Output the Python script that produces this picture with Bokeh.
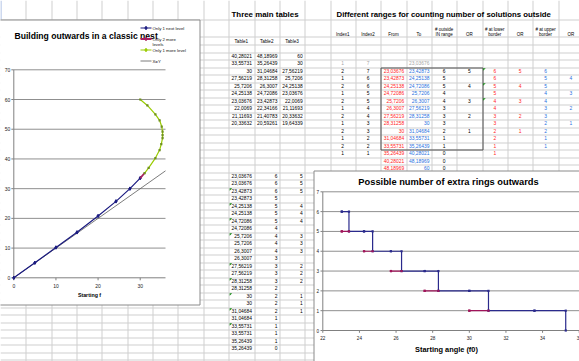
from bokeh.plotting import figure
from bokeh.models import Range1d, ColumnDataSource
from bokeh.embed import file_html
from bokeh.resources import INLINE
from bokeh.core.properties import value

# ---------------- data ----------------
table_headers = ["Table1", "Table2", "Table3"]
table1 = [40.28021, 33.55731, 30, 27.56219, 25.7206, 24.25138, 23.03676, 22.0069, 21.11693, 20.33632]
table2 = [48.18969, 35.26439, 31.04684, 28.31258, 26.3007, 24.72086, 23.42873, 22.34166, 21.40783, 20.59261]
table3 = [60, 30, 27.56219, 25.7206, 24.25138, 23.03676, 22.0069, 21.11693, 20.33632, 19.64339]

range_headers = [["Index1"], ["Index2"], ["From"], ["To"], ["# outside", "IN range"], ["OR"],
                 ["# at lower", "border"], ["OR"], ["# at upper", "border"], ["OR"]]
range_index1 = [1, 2, 1, 2, 1, 2, 1, 2, 1, 2, 1, 2, 1, None, None]
range_index2 = [7, 7, 6, 6, 5, 5, 4, 4, 3, 3, 2, 2, 1, None, None]
range_from = [None, 23.03676, 23.42873, 24.25138, 24.72086, 25.7206, 26.3007, 27.56219, 28.31258, 30,
              31.04684, 33.55731, 35.26439, 40.28021, 48.18969]
range_to = [23.03676, 23.42873, 24.25138, 24.72086, 25.7206, 26.3007, 27.56219, 28.31258, 30, 31.04684,
            33.55731, 35.26439, 40.28021, 48.18969, 60]
outside_in_range = [None, 6, 5, 5, 4, 4, 3, 3, 3, 2, 1, 1, 0, 0, 0]
outside_or = [None, 5, None, 4, None, 3, None, 2, None, 1, None, None, None, None, None]
lower_border = [None, 6, 6, 5, 5, 4, 4, 3, 3, 2, 2, 1, 1, None, None]
lower_or = [None, 5, None, 4, None, 3, None, 2, None, 1, None, None, None, None, None]
upper_border = [None, 6, 5, 5, 4, 4, 3, 3, 2, 2, 1, 1, None, None, None]
upper_or = [None, None, 4, None, 3, None, 2, None, 1, None, None, None, None, None, None]
range_flags = [1, 3, 5]

steps_angle = [23.03676, 23.03676, 23.42873, 23.42873, 24.25138, 24.25138, 24.72086, 24.72086,
               25.7206, 25.7206, 26.3007, 26.3007, 27.56219, 27.56219, 28.31258, 28.31258,
               30, 30, 31.04684, 31.04684, 33.55731, 33.55731, 35.26439, 35.26439]
steps_rings = [6, 6, 6, 5, 5, 5, 5, 4, 4, 4, 4, 3, 3, 3, 3, 2, 2, 2, 2, 1, 1, 1, 1, 0]
steps_rings2 = [5, 5, 5, None, 4, 4, 4, None, 3, 3, 3, None, 2, 2, 2, None, 1, 1, 1,
                None, None, None, None, None]
steps_flag = [0, 0, 1, 0, 1, 0, 1, 0, 1, 0, 0, 0, 1, 0, 1, 0, 1, 0, 1, 0, 1, 0, 0, 0]

nest_title = "Building outwards in a classic nest"
nest_labels = ["Only 1 next level", "Only 2 more levels", "Only 1 more level", "X=Y"]
next_level_x = [0, 5, 10, 15, 20, 24.25, 27.56, 30]
next_level_y = [0, 5.05, 10.2, 15.3, 20.8, 25.72, 30, 33.56]
two_more_x = [30, 31.05]
two_more_y = [33.56, 35.26]
one_more_x = [31.05, 32.0, 33.6, 34.6, 35.0, 35.3, 35.3, 35.3, 35.1, 34.6, 33.6, 31.7, 30.0]
one_more_y = [35.26, 37.0, 40.3, 43.0, 45.0, 47.0, 48.0, 49.2, 50.9, 53.0, 55.0, 58.0, 60.0]
xy_x = [0, 36]
xy_y = [0, 36]
nest_xticks = [0, 10, 20, 30]
nest_yticks = [0, 10, 20, 30, 40, 50, 60, 70]
nest_xlabel = "Starting f"

rings_title = "Possible number of extra rings outwards"
rings_xticks = [22, 24, 26, 28, 30, 32, 34, 36]
rings_yticks = [0, 1, 2, 3, 4, 5, 6, 7]
rings_xlabel = "Starting angle  (f0)"

# ---------------- page ----------------
FX0, FX1, FY0, FY1 = 0, 579, 0, 361
p = figure(width=FX1 - FX0, height=FY1 - FY0, x_range=Range1d(FX0, FX1), y_range=Range1d(FY1, FY0),
           output_backend="svg", toolbar_location=None, min_border=0,
           x_axis_location=None, y_axis_location=None)
p.xgrid.visible = False
p.ygrid.visible = False
p.outline_line_color = None
p.background_fill_color = "white"
p.border_fill_color = "white"


def xr(d0, d1, px0, px1):
    k = (px1 - px0) / (d1 - d0)
    s = d0 - (px0 - FX0) / k
    return Range1d(s, s + (FX1 - FX0) / k)


def yr(d0, d1, py0, py1):
    k = (py0 - py1) / (d1 - d0)
    s = d0 - (FY1 - py0) / k
    return Range1d(s, s + (FY1 - FY0) / k)


p.extra_x_ranges = {"c1x": xr(0, 36, 13.3, 165.0), "c2x": xr(22, 36, 322.3, 578.7)}
p.extra_y_ranges = {"c1y": yr(0, 70, 277.3, 69.3), "c2y": yr(0, 7, 330.0, 191.3)}

FONT = value("Liberation Sans")


def fmt(v):
    if v is None:
        return ""
    if isinstance(v, int):
        return str(v)
    s = f"{v:.5f}".rstrip("0").rstrip(".")
    return s.replace(".", ",")


def txt(xs, ys, texts, size, color="black", align="left", bold=False, xn="default", yn="default",
        baseline="middle"):
    xs, ys, texts = list(xs), list(ys), list(texts)
    cols = list(color) if isinstance(color, list) else [color] * len(texts)
    src = ColumnDataSource(dict(x=xs, y=ys, t=texts, c=cols))
    p.text(x="x", y="y", text="t", source=src, text_font=FONT, text_font_size=f"{size}px",
           text_color="c", text_align=align, text_baseline=baseline,
           text_font_style="bold" if bold else "normal", x_range_name=xn, y_range_name=yn)


# spreadsheet grid
CW = 25.35
col = [CW * i for i in range(0, 25)]
vx = [round(c) + 0.5 for c in col[1:]]
p.segment(x0=vx, x1=vx, y0=[0] * len(vx), y1=[361] * len(vx), line_color="#cfcfcf", line_width=1)
hy = [19.5, 36.5, 44.5] + [round(51.75 + 7.5 * k) + 0.5 for k in range(0, 42)]
p.segment(x0=[0] * len(hy), x1=[580] * len(hy), y0=hy, y1=hy, line_color="#cfcfcf", line_width=1)
p.segment(x0=[0.5], x1=[0.5], y0=[0], y1=[19], line_color="#9db3e0", line_width=1)


def rowc(j):
    return 55.2 + 7.5 * j


def rowtop(j):
    return 51.75 + 7.5 * j


# section titles
txt([231], [13.5], ["Three main tables"], 7.9, bold=True)
txt([336], [13.5], ["Different ranges for counting number of solutions outside"], 7.8, bold=True)

# three main tables
for i, h in enumerate(table_headers):
    txt([col[9 + i] + CW / 2], [41.0], [h], 4.6, align="center")
for i, arr in enumerate([table1, table2, table3]):
    txt([col[10 + i] - 2] * len(arr), [rowc(j) for j in range(len(arr))], [fmt(v) for v in arr], 4.9,
        align="right")

# lower table
n = len(steps_angle)
ly = [rowc(16 + i) for i in range(n)]
txt([col[10] - 2] * n, ly, [fmt(v) for v in steps_angle], 4.9, align="right")
txt([col[11] - 2] * n, ly, [fmt(v) for v in steps_rings], 4.9, align="right")
txt([col[12] - 2] * n, ly, [fmt(v) for v in steps_rings2], 4.9, align="right")
fx, fy = [], []
for i, f in enumerate(steps_flag):
    if f:
        x0 = col[9] + 1
        t0 = rowtop(16 + i) + 1
        fx.append([x0, x0 + 2.6, x0])
        fy.append([t0, t0, t0 + 2.6])
p.patches(fx, fy, fill_color="#1a8a1a", line_color=None)

# ranges table
for i, lines in enumerate(range_headers):
    cx = col[13 + i] + CW / 2
    if len(lines) == 1:
        txt([cx], [34.3], lines, 4.5, align="center")
    else:
        txt([cx, cx], [29.0, 34.3], lines, 4.5, align="center")
m = len(range_to)
ry = [rowc(1 + r) for r in range(m)]
gray = "#a6a6a6"
red = "#ff1a1a"
blue = "#1f6fe0"
txt([col[13] + CW / 2] * m, ry, [fmt(v) for v in range_index1], 4.9, align="center",
    color=[gray] + ["black"] * (m - 1))
txt([col[14] + CW / 2] * m, ry, [fmt(v) for v in range_index2], 4.9, align="center",
    color=[gray] + ["black"] * (m - 1))
txt([col[16] - 2] * m, ry, [fmt(v) for v in range_from], 4.9, align="right", color=red)
txt([col[17] - 2] * m, ry, [fmt(v) for v in range_to], 4.9, align="right",
    color=[gray] + [blue] * (m - 1))
txt([col[17] + CW / 2] * m, ry, [fmt(v) for v in outside_in_range], 4.9, align="center")
txt([col[18] + CW / 2] * m, ry, [fmt(v) for v in outside_or], 4.9, align="center")
txt([col[19] + CW / 2] * m, ry, [fmt(v) for v in lower_border], 4.9, align="center", color=red)
txt([col[20] + CW / 2] * m, ry, [fmt(v) for v in lower_or], 4.9, align="center", color=red)
txt([col[21] + CW / 2] * m, ry, [fmt(v) for v in upper_border], 4.9, align="center", color=blue)
txt([col[22] + CW / 2] * m, ry, [fmt(v) for v in upper_or], 4.9, align="center", color=blue)
p.quad(left=[round(col[15]) + 0.5], right=[round(col[19]) + 0.5], top=[round(rowtop(2)) + 0.5],
       bottom=[round(rowtop(13)) + 0.5], fill_color=None, line_color="#505050", line_width=1)
gx, gy = [], []
for r in range_flags:
    x0 = col[19] + 1
    t0 = rowtop(1 + r) + 1
    gx.append([x0, x0 + 2.6, x0])
    gy.append([t0, t0, t0 + 2.6])
p.patches(gx, gy, fill_color="#1a8a1a", line_color=None)

# ---------------- left chart ----------------
p.quad(left=[-2], right=[199.5], top=[19.5], bottom=[304.5], fill_color="white", line_color="#8a8a8a")
gl = nest_yticks[1:]
p.segment(x0=[0] * len(gl), x1=[36] * len(gl), y0=gl, y1=gl, x_range_name="c1x", y_range_name="c1y",
          line_color="#8f8f8f", line_width=1)
p.segment(x0=[0, 0], x1=[0, 36], y0=[0, 0], y1=[70, 0], x_range_name="c1x", y_range_name="c1y",
          line_color="#808080", line_width=1)
p.segment(x0=[10.8] * len(nest_yticks), x1=[13.3] * len(nest_yticks), y0=nest_yticks, y1=nest_yticks,
          y_range_name="c1y", line_color="#808080")
p.segment(x0=nest_xticks, x1=nest_xticks, y0=[277.3] * 4, y1=[279.8] * 4, x_range_name="c1x",
          line_color="#808080")
txt([9.8] * len(nest_yticks), nest_yticks, [str(v) for v in nest_yticks], 5.0, align="right",
    yn="c1y", color="#222222")
txt(nest_xticks, [285.5] * len(nest_xticks), [str(v) for v in nest_xticks], 5.0, align="center",
    xn="c1x", color="#222222")
txt([89], [294.5], [nest_xlabel], 5.3, align="center", bold=True)
txt([14], [35.5], [nest_title], 8.6, bold=True)

p.line(xy_x, xy_y, x_range_name="c1x", y_range_name="c1y", line_color="#5a5a5a", line_width=0.8)
p.line(next_level_x, next_level_y, x_range_name="c1x", y_range_name="c1y", line_color="#1a1a80",
       line_width=1.2)
p.scatter(next_level_x, next_level_y, x_range_name="c1x", y_range_name="c1y", marker="diamond",
          size=3.5, fill_color="#1a1a80", line_color="#1a1a80")
p.line(two_more_x, two_more_y, x_range_name="c1x", y_range_name="c1y", line_color="#a8205f",
       line_width=1.8)
p.line(one_more_x, one_more_y, x_range_name="c1x", y_range_name="c1y", line_color="#99cc00",
       line_width=1.2)
p.scatter(one_more_x, one_more_y, x_range_name="c1x", y_range_name="c1y", marker="square",
          size=2.2, fill_color="#6f8f20", line_color=None)

# legend
leg_y = [27.5, 38.5, 49.5, 60.5]
leg_c = ["#1a1a80", "#a8205f", "#99cc00", "#5a5a5a"]
p.segment(x0=[140] * 4, x1=[151] * 4, y0=leg_y, y1=leg_y, line_color=leg_c,
          line_width=[1.2, 1.8, 1.2, 0.8])
p.scatter([145.5] * 3, leg_y[:3], marker="diamond", size=3.5, fill_color=leg_c[:3], line_color=leg_c[:3])
lab2 = nest_labels[1].rsplit(" ", 1)
txt([152, 152, 152, 152, 152], [leg_y[0], leg_y[1], leg_y[1] + 5, leg_y[2], leg_y[3]],
    [nest_labels[0], lab2[0], lab2[1], nest_labels[2], nest_labels[3]], 4.3, color="#111111")

# ---------------- right chart ----------------
p.quad(left=[313.5], right=[600], top=[170.5], bottom=[400], fill_color="white", line_color="#8a8a8a")
g2 = rings_yticks[1:]
p.segment(x0=[22] * len(g2), x1=[36] * len(g2), y0=g2, y1=g2, x_range_name="c2x", y_range_name="c2y",
          line_color="#8f8f8f", line_width=1)
p.segment(x0=[22, 22], x1=[22, 36], y0=[0, 0], y1=[7, 0], x_range_name="c2x", y_range_name="c2y",
          line_color="#808080", line_width=1)
p.segment(x0=[320] * len(rings_yticks), x1=[322.3] * len(rings_yticks), y0=rings_yticks,
          y1=rings_yticks, y_range_name="c2y", line_color="#808080")
p.segment(x0=rings_xticks, x1=rings_xticks, y0=[330] * len(rings_xticks), y1=[332.3] * len(rings_xticks),
          x_range_name="c2x", line_color="#808080")
txt([318.5] * len(rings_yticks), rings_yticks, [str(v) for v in rings_yticks], 4.6, align="right",
    yn="c2y", color="#222222")
txt(rings_xticks, [337.5] * len(rings_xticks), [str(v) for v in rings_xticks], 4.6, align="center",
    xn="c2x", color="#222222")
txt([447], [349], [rings_xlabel], 7.4, align="center", bold=True)
txt([448], [181.5], [rings_title], 9.3, align="center", bold=True)

nan = float("nan")
r2 = [nan if v is None else v for v in steps_rings2]
p.line(steps_angle, steps_rings, x_range_name="c2x", y_range_name="c2y", line_color="#2a2a8c",
       line_width=1.2)
p.line(steps_angle, r2, x_range_name="c2x", y_range_name="c2y", line_color="#a0145a", line_width=1.2)
p.scatter(steps_angle, steps_rings, x_range_name="c2x", y_range_name="c2y", marker="square", size=2.2,
          fill_color="#2a2a8c", line_color=None)
p.scatter(steps_angle, r2, x_range_name="c2x", y_range_name="c2y", marker="square", size=2.2,
          fill_color="#a0145a", line_color=None)

open("out.html", "w").write(file_html(p, INLINE))
